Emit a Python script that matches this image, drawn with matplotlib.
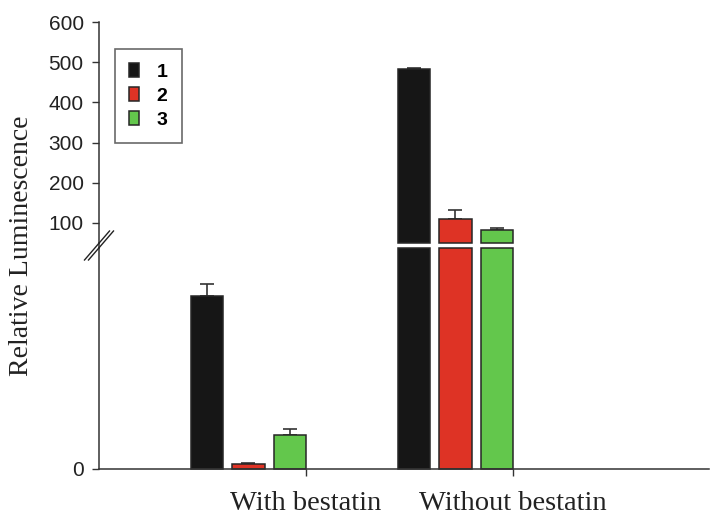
import numpy as np
import matplotlib
matplotlib.use("Agg")
import matplotlib.pyplot as plt
from matplotlib.lines import Line2D

# ---- data ----
categories = ["With bestatin", "Without bestatin"]
series_names = ["1", "2", "3"]
series_colors = ["#161616", "#DE3325", "#63C74C"]
# mean luminescence per series, one value per category
values_1 = [39.1, 482.0]
values_2 = [1.1, 109.0]
values_3 = [7.7, 82.0]
# upper error bars
errors_1 = [2.7, 4.0]
errors_2 = [0.2, 24.0]
errors_3 = [1.3, 6.5]
upper_ticks = [100, 200, 300, 400, 500, 600]
lower_ticks = [0]
BREAK = 50      # value where the axis is broken
TOP = 600

values = [values_1, values_2, values_3]
errors = [errors_1, errors_2, errors_3]

W, H = 710, 514
fig = plt.figure(figsize=(W / 100, H / 100), dpi=100)

SANS = "Liberation Sans"
SERIF = "Liberation Serif"

left_px, right_px = 99, 709
top_px, upper_bot_px = 22, 243
lower_top_px, base_px = 248, 469

def fx(px):
    return px / W

def fy(py):
    return (H - py) / H

ax_up = fig.add_axes([fx(left_px), fy(upper_bot_px), fx(right_px - left_px), (upper_bot_px - top_px) / H])
ax_lo = fig.add_axes([fx(left_px), fy(base_px), fx(right_px - left_px), (base_px - lower_top_px) / H])

x = np.arange(len(categories))
offsets = [-0.2, 0.0, 0.2]
bar_w = 0.157
edge = "#262626"
ecol = "#333333"

for vals, errs, off, col, name in zip(values, errors, offsets, series_colors, series_names):
    vals = np.asarray(vals, dtype=float)
    errs = np.asarray(errs, dtype=float)
    xs = x + off
    # lower segment: 0 .. BREAK
    ax_lo.bar(xs, np.minimum(vals, BREAK), width=bar_w, color=col, edgecolor=edge,
              linewidth=1.1, clip_on=False, zorder=2)
    low = vals <= BREAK
    ax_lo.errorbar(xs[low], vals[low], yerr=[np.zeros(low.sum()), errs[low]], fmt="none",
                   ecolor=ecol, elinewidth=1.2, capsize=4.7, capthick=1.2, zorder=1)
    # upper segment: BREAK .. TOP
    hi = vals > BREAK
    ax_up.bar(xs[hi], vals[hi] - BREAK, bottom=BREAK, width=bar_w, color=col, edgecolor=edge,
              linewidth=1.1, clip_on=False, zorder=2, label=name)
    ax_up.errorbar(xs[hi], vals[hi], yerr=[np.zeros(hi.sum()), errs[hi]], fmt="none",
                   ecolor=ecol, elinewidth=1.2, capsize=4.7, capthick=1.2, zorder=1)

xlim = (-0.722, 2.225)
for ax in (ax_up, ax_lo):
    ax.set_xlim(*xlim)
    ax.spines["top"].set_visible(False)
    ax.spines["right"].set_visible(False)
    ax.spines["left"].set_linewidth(1.1)
    ax.spines["left"].set_color("#333333")
    ax.tick_params(axis="y", direction="out", length=5, width=1.0, color="#333333",
                   pad=6, labelsize=15, labelcolor="#222222")

ax_up.set_ylim(BREAK, TOP)
ax_up.set_yticks(upper_ticks)
ax_up.set_yticklabels([str(t) for t in upper_ticks], fontfamily=SANS)
ax_up.spines["bottom"].set_visible(False)
ax_up.set_xticks([])

ax_lo.set_ylim(0, BREAK)
ax_lo.set_yticks(lower_ticks)
ax_lo.set_yticklabels([str(t) for t in lower_ticks], fontfamily=SANS)
ax_lo.spines["bottom"].set_linewidth(1.1)
ax_lo.spines["bottom"].set_color("#333333")
ax_lo.set_xticks(x + 0.2785)
ax_lo.set_xticklabels(categories, fontfamily=SERIF, fontsize=20.5, color="#222222")
ax_lo.tick_params(axis="x", direction="out", length=5, width=1.0, color="#333333", pad=10.5)

# continuous spine across the gap
fig.add_artist(Line2D([fx(left_px), fx(left_px)], [fy(upper_bot_px), fy(lower_top_px)],
                      color="#333333", lw=1.1, transform=fig.transFigure))

# axis break marks
cx, cy = 99, 245.5
for dx in (-2.0, 2.0):
    x0, y0 = cx + dx - 12.5, cy + 14.5
    x1, y1 = cx + dx + 12.5, cy - 14.5
    fig.add_artist(Line2D([fx(x0), fx(x1)], [fy(y0), fy(y1)], color="#222222", lw=1.0,
                          transform=fig.transFigure))

fig.text(fx(22), fy(246), "Relative Luminescence", rotation=90, ha="center", va="center",
         fontfamily=SERIF, fontsize=20, color="#222222")

leg = ax_up.legend(loc="upper left", bbox_to_anchor=((115 - left_px) / (right_px - left_px),
                                                     (upper_bot_px - 49) / (upper_bot_px - top_px)),
                   borderaxespad=0, frameon=True, fancybox=False, edgecolor="#444444",
                   prop={"family": SANS, "weight": "bold", "size": 14},
                   handlelength=0.53, handleheight=0.72, handletextpad=0.9,
                   borderpad=0.72, labelspacing=0.33)
leg.get_frame().set_linewidth(1.2)

fig.savefig("out.png", dpi=100)
